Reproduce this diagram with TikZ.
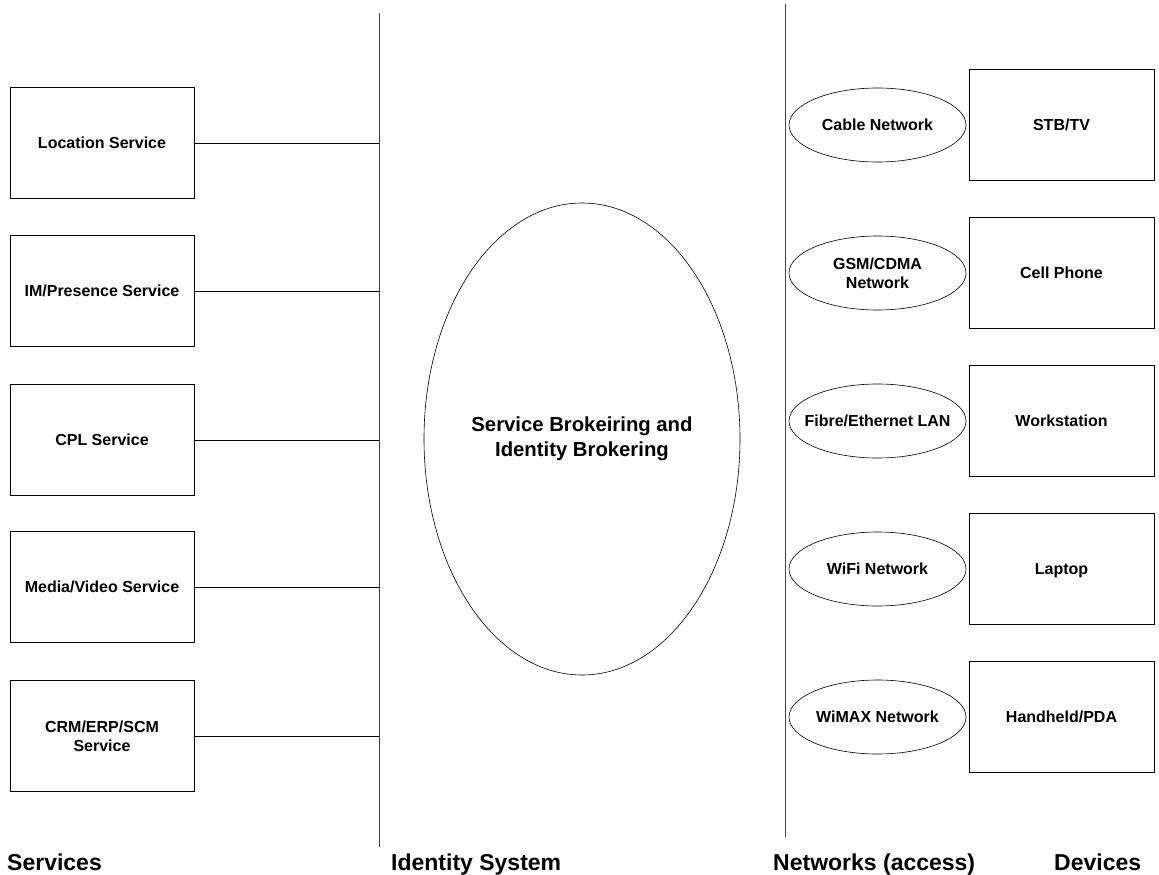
\documentclass[tikz,border=0pt]{standalone}
\usepackage{fontspec}
\setmainfont{Liberation Sans}
\usetikzlibrary{shapes.geometric}
\begin{document}
\begin{tikzpicture}[x=1pt,y=-1pt,
  every node/.style={font=\bfseries\fontsize{16}{19}\selectfont, align=center, inner sep=0pt},
  oneline/.style={text height=12.7pt, text depth=1.3pt},
  svcbox/.style={draw, line width=0.8pt, minimum width=184pt, minimum height=111pt},
  devbox/.style={draw, line width=0.8pt, minimum width=185pt, minimum height=111pt, oneline},
  netell/.style={draw, ellipse, line width=0.6pt, inner xsep=-45pt, inner ysep=-8pt,
                 minimum width=177pt, minimum height=74pt},
  link/.style={line width=0.8pt},
  tier/.style={draw=black!75, line width=1pt},
  caption/.style={anchor=base west, font=\bfseries\fontsize{23}{28}\selectfont}]
\useasboundingbox (0,0) rectangle (1159,875);

% tier separators
\coordinate (idT) at (379,13);
\coordinate (idB) at (379,847);
\coordinate (nwT) at (785,4);
\coordinate (nwB) at (785,837);
\draw[tier] (idT) -- (idB);
\draw[tier] (nwT) -- (nwB);

% services
\node[svcbox, oneline] (loc) at (102,143) {Location Service};
\node[svcbox, oneline] (im)  at (102,291) {IM/Presence Service};
\node[svcbox, oneline] (cpl) at (102,440) {CPL Service};
\node[svcbox, oneline] (med) at (102,587) {Media/Video Service};
\node[svcbox] (crm) at (102,736) {CRM/ERP/SCM\\Service};
\foreach \s in {loc,im,cpl,med,crm}
  \draw[link] (\s.east) -- (\s.east -| idT);

% identity system
\node[draw, ellipse, line width=0.6pt, minimum width=316pt, minimum height=472pt,
      font=\bfseries\fontsize{20.3}{25}\selectfont] (broker) at (582,439)
  {Service Brokeiring and\\Identity Brokering};

% access networks
\node[netell, oneline] (cab)  at (877.5,125) {Cable Network};
\node[netell] (gsm)  at (877.5,273) {GSM/CDMA\\Network};
\node[netell, oneline] (fib)  at (877.5,421) {Fibre/Ethernet LAN};
\node[netell, oneline] (wifi) at (877.5,569) {WiFi Network};
\node[netell, oneline] (wmx)  at (877.5,717) {WiMAX Network};

% devices
\node[devbox] (stb)  at (1061.5,125) {STB/TV};
\node[devbox] (cell) at (1061.5,273) {Cell Phone};
\node[devbox] (ws)   at (1061.5,421) {Workstation};
\node[devbox] (lap)  at (1061.5,569) {Laptop};
\node[devbox] (pda)  at (1061.5,717) {Handheld/PDA};

% column captions
\node[caption] (capS) at (7,870)    {Services};
\node[caption] (capI) at (391,870)  {Identity System};
\node[caption] (capN) at (773,870)  {Networks (access)};
\node[caption] (capD) at (1054,870) {Devices};
\end{tikzpicture}
\end{document}
